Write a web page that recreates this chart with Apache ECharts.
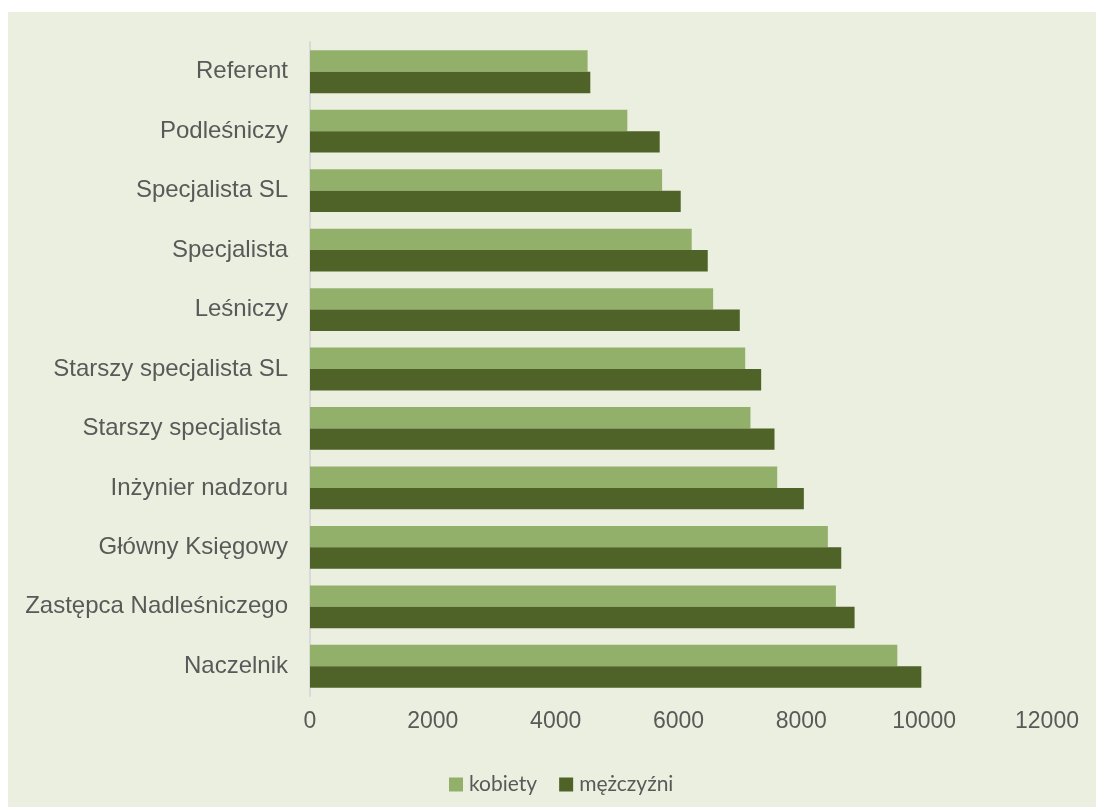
<!DOCTYPE html>
<html>
<head>
<meta charset="utf-8">
<script src="https://cdn.jsdelivr.net/npm/echarts@6/dist/echarts.min.js"></script>
<style>
  html, body { margin: 0; padding: 0; background: #ffffff; }
  #panel { position: absolute; left: 8px; top: 12px; right: 0; bottom: 0; background: #ebefdf; }
  #chart { position: absolute; left: 0; top: 0; width: 1096px; height: 807px; }
</style>
</head>
<body>
<div id="panel"></div>
<div id="chart"></div>
<script>
// Average pay by position, split by gender
const categories = [
  'Referent', 'Podleśniczy', 'Specjalista SL', 'Specjalista', 'Leśniczy',
  'Starszy specjalista SL', 'Starszy specjalista ', 'Inżynier nadzoru',
  'Główny Księgowy', 'Zastępca Nadleśniczego', 'Naczelnik'
];
const kobiety = [4520, 5167, 5733, 6215, 6564, 7086, 7172, 7607, 8432, 8563, 9563];
const mezczyzni = [4564, 5694, 6036, 6476, 6998, 7346, 7563, 8041, 8650, 8867, 9954];
const xTicks = { min: 0, max: 12000, interval: 2000 };

const chart = echarts.init(document.getElementById('chart'), null, { renderer: 'canvas' });
const textColor = '#595959';
chart.setOption({
  backgroundColor: 'transparent',
  animation: false,
  grid: { left: 310, right: 49, top: 42, bottom: 111, containLabel: false },
  legend: {
    left: 444, top: 769,
    itemWidth: 14, itemHeight: 14, itemGap: 22,
    icon: 'rect',
    textStyle: { color: textColor, fontFamily: 'Lato', fontSize: 21, padding: [0, 0, 0, 1] },
    data: ['kobiety', 'mężczyźni']
  },
  xAxis: {
    type: 'value',
    min: xTicks.min, max: xTicks.max, interval: xTicks.interval,
    axisLine: { show: false },
    axisTick: { show: false },
    splitLine: { show: false },
    axisLabel: {
      color: textColor, fontFamily: 'Liberation Sans', fontSize: 23, margin: 14,
      formatter: v => String(v)
    }
  },
  yAxis: {
    type: 'category',
    inverse: true,
    data: categories,
    axisLine: { show: true, lineStyle: { color: '#d9d9d9', width: 2 } },
    axisTick: { show: false },
    axisLabel: { color: textColor, fontFamily: 'Liberation Sans', fontSize: 24, margin: 22 }
  },
  series: [
    {
      name: 'kobiety', type: 'bar', data: kobiety,
      barGap: '0%', barCategoryGap: '28%',
      itemStyle: { color: '#93b06b' }
    },
    {
      name: 'mężczyźni', type: 'bar', data: mezczyzni,
      barGap: '0%', barCategoryGap: '28%',
      itemStyle: { color: '#4f6228' }
    }
  ]
});
</script>
</body>
</html>
